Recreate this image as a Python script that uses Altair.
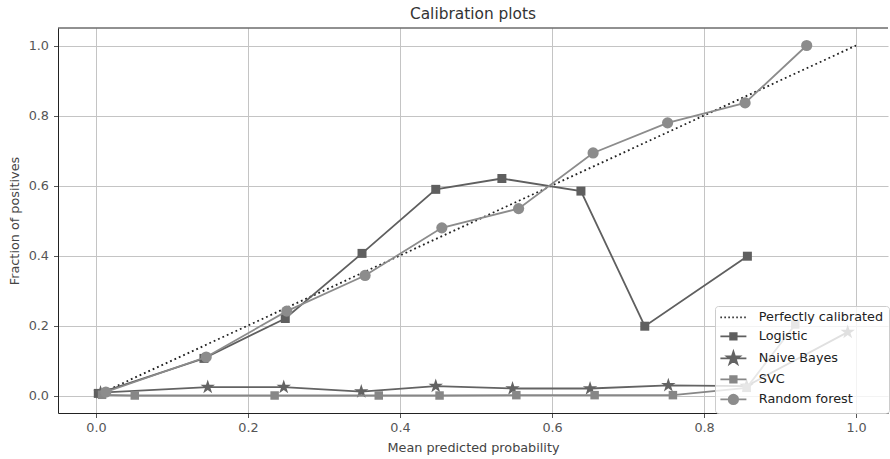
import altair as alt
import pandas as pd

# ---------------- data ----------------
perfect_x = [0.0, 1.0]
perfect_y = [0.0, 1.0]

logistic_x = [0.003, 0.142, 0.249, 0.350, 0.447, 0.534, 0.638, 0.722, 0.857]
logistic_y = [0.006, 0.106, 0.220, 0.406, 0.589, 0.620, 0.584, 0.198, 0.398]

nb_x = [0.006, 0.147, 0.247, 0.349, 0.447, 0.548, 0.650, 0.753, 0.856, 0.989]
nb_y = [0.008, 0.024, 0.024, 0.011, 0.027, 0.020, 0.020, 0.029, 0.027, 0.181]

svc_x = [0.008, 0.051, 0.235, 0.372, 0.452, 0.553, 0.656, 0.759, 0.856, 0.920]
svc_y = [0.002, 0.000, 0.000, 0.000, 0.000, 0.001, 0.001, 0.001, 0.022, 0.203]

rf_x = [0.013, 0.145, 0.251, 0.354, 0.455, 0.556, 0.654, 0.752, 0.854, 0.935]
rf_y = [0.010, 0.110, 0.241, 0.343, 0.479, 0.534, 0.693, 0.779, 0.836, 1.000]

models = ["Logistic", "Naive Bayes", "SVC", "Random forest"]
legend_names = ["Perfectly calibrated"] + models

x_ticks = [0.0, 0.2, 0.4, 0.6, 0.8, 1.0]
y_ticks = [0.0, 0.2, 0.4, 0.6, 0.8, 1.0]

# ---------------- styling ----------------
model_colors = ["#5f5f5f", "#636363", "#878787", "#8c8c8c"]
legend_colors = ["#222222"] + model_colors

STAR = ("M0,-1L0.225,-0.309L0.951,-0.309L0.363,0.118L0.588,0.809L0,0.382"
        "L-0.588,0.809L-0.363,0.118L-0.951,-0.309L-0.225,-0.309Z")
model_shapes = ["square", STAR, "square", "circle"]
model_sizes = [81, 230, 72, 125]

# legend glyphs: line segment plus marker (units of 5px, shifted right)
LINE = "M-1.2,0L4,0"
DOTS = " ".join(f"M{-1.2 + i * 0.795:.3f},0h0.3" for i in range(7))
SQ = "M0.75,-0.65L2.05,-0.65L2.05,0.65L0.75,0.65Z"
STAR_L = ("M1.4,-1.35L1.703,-0.417L2.684,-0.417L1.891,0.159L2.194,1.092"
          "L1.4,0.516L0.606,1.092L0.909,0.159L0.116,-0.417L1.097,-0.417Z")
CIRC = "M0.45,0A0.95,0.95 0 1,0 2.35,0A0.95,0.95 0 1,0 0.45,0Z"
legend_shapes = [DOTS, LINE + SQ, LINE + STAR_L, LINE + SQ, LINE + CIRC]

W, H = 830, 385
FONT = "DejaVu Sans"
LW = 1.8

# ---------------- tables ----------------
frames = []
for name, xs, ys in [("Logistic", logistic_x, logistic_y),
                     ("Naive Bayes", nb_x, nb_y),
                     ("SVC", svc_x, svc_y),
                     ("Random forest", rf_x, rf_y)]:
    frames.append(pd.DataFrame({"series": name, "x": xs, "y": ys,
                                "order": range(len(xs))}))
df = pd.concat(frames, ignore_index=True)
perfect_df = pd.DataFrame({"x": perfect_x, "y": perfect_y})
legend_df = pd.DataFrame({"series": legend_names})

xscale = alt.Scale(domain=[-0.05, 1.042], nice=False, zero=False)
yscale = alt.Scale(domain=[-0.05, 1.05], nice=False, zero=False)

xenc = alt.X("x:Q", scale=xscale,
             axis=alt.Axis(values=x_ticks, format=".1f",
                           title="Mean predicted probability"))
yenc = alt.Y("y:Q", scale=yscale,
             axis=alt.Axis(values=y_ticks, format=".1f",
                           title="Fraction of positives"))

perfect = alt.Chart(perfect_df).mark_line(
    color="#222222", strokeDash=[1.8, 3.0], strokeWidth=LW
).encode(x=xenc, y=yenc)

# one line + marker pair per model (drawn in matplotlib's order)
model_layers = []
for name, col, shp, sz in zip(models, model_colors, model_shapes, model_sizes):
    base = alt.Chart(df).transform_filter(alt.datum.series == name)
    model_layers.append(
        base.mark_line(strokeWidth=LW, color=col).encode(
            x=xenc, y=yenc, order="order:Q")
    )
    model_layers.append(
        base.mark_point(filled=True, opacity=1, color=col, shape=shp,
                        size=sz).encode(x=xenc, y=yenc)
    )

leg = alt.Legend(title=None, orient="none", legendX=657, legendY=278,
                 labelFont=FONT, labelFontSize=12.8, labelColor="#222222",
                 padding=5, rowPadding=4, labelOffset=26,
                 symbolSize=100, symbolStrokeWidth=LW,
                 fillColor="rgba(255,255,255,0.8)", strokeColor="#cccccc",
                 cornerRadius=3)

legend_layer = alt.Chart(legend_df).mark_point(
    filled=False, size=100, strokeWidth=LW, opacity=1
).encode(
    color=alt.Color("series:N",
                    scale=alt.Scale(domain=legend_names, range=legend_colors),
                    legend=leg, sort=legend_names),
    fill=alt.Fill("series:N",
                  scale=alt.Scale(domain=legend_names, range=legend_colors),
                  legend=leg, sort=legend_names),
    shape=alt.Shape("series:N",
                    scale=alt.Scale(domain=legend_names, range=legend_shapes),
                    legend=leg, sort=legend_names),
).transform_filter("false")

top_spine = alt.Chart(pd.DataFrame({"a": [0]})).mark_rule(
    color="#222222", strokeWidth=1
).encode(x=alt.value(0), x2=alt.value(W), y=alt.value(0))

chart = alt.layer(
    perfect, *model_layers, legend_layer, top_spine
).properties(
    width=W, height=H,
    title=alt.Title("Calibration plots", font=FONT, fontSize=15.4,
                    fontWeight="normal", color="#333333", offset=5),
    padding={"left": 58, "top": 28, "right": 2, "bottom": 46},
    autosize="none",
    background="white",
).configure_view(
    stroke=None
).configure_axis(
    labelFont=FONT, labelFontSize=12.8, labelColor="#555555",
    titleFont=FONT, titleFontSize=12.8, titleColor="#444444",
    titleFontWeight="normal",
    gridColor="#c4c4c4", gridWidth=1,
    domainColor="#222222", domainWidth=1,
    tickColor="#555555", tickSize=4.5,
).configure_axisX(
    labelPadding=4, titlePadding=7
).configure_axisY(
    labelPadding=5, titlePadding=7
)

chart.save("out.html", embed_options={"renderer": "svg", "actions": False})
